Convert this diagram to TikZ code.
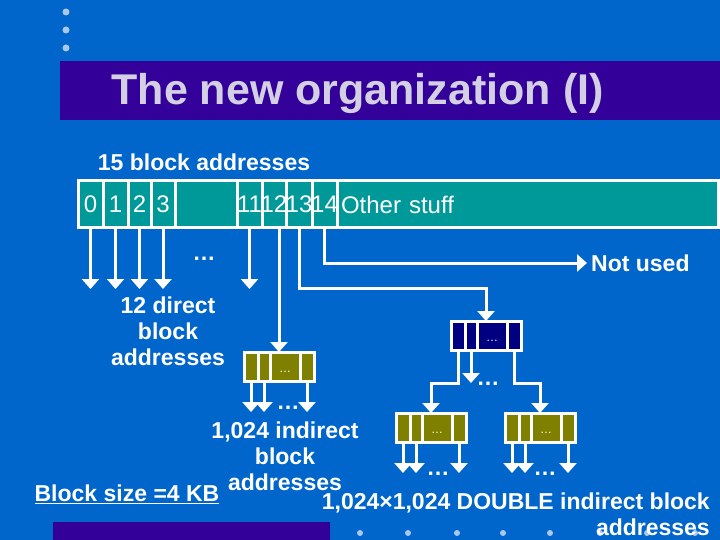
\documentclass[tikz,border=0pt]{standalone}
\usepackage{fontspec}
\setmainfont{Liberation Sans}
\usetikzlibrary{arrows.meta,positioning}

\definecolor{slidebg}{RGB}{0,102,204}
\definecolor{titlebar}{RGB}{51,0,153}
\definecolor{titletext}{RGB}{212,208,228}
\definecolor{bulletdot}{RGB}{170,200,235}
\definecolor{inodeteal}{RGB}{0,153,153}
\definecolor{indolive}{RGB}{128,128,0}
\definecolor{dblnavy}{RGB}{0,0,128}

\tikzset{
  cell/.style={draw=white, line width=3pt, fill=inodeteal, minimum height=47pt,
    inner sep=0pt, outer sep=0pt, text=white, font=\fontsize{24}{27}\selectfont},
  bcell/.style={draw=white, line width=3pt, minimum height=29pt, inner sep=0pt,
    outer sep=0pt, text=white, text height=12pt, text depth=0pt,
    font=\fontsize{12}{14}\selectfont},
  lbl/.style={text=white, inner sep=1pt, align=center,
    font=\bfseries\fontsize{23}{26}\selectfont},
  dots/.style={text=white, inner sep=0pt, anchor=base, font=\bfseries\fontsize{23}{26}\selectfont},
  arr/.style={draw=white, line width=3pt, -{Triangle[width=17pt,length=10pt]}},
}

% cell number that may spill over the cell borders
\newcommand{\cnum}[1]{\makebox[0pt]{#1}}

% one index block: four cells, coordinate (#1) at the middle of its top
\newcommand{\iblock}[4]{%
  \node[bcell, fill=#4, minimum width=14pt, anchor=north west] (#1a) at (#2,#3) {};
  \node[bcell, fill=#4, minimum width=12pt, right=0pt of #1a] (#1b) {};
  \node[bcell, fill=#4, minimum width=30pt, right=0pt of #1b] (#1c) {\ldots};
  \node[bcell, fill=#4, minimum width=14pt, right=0pt of #1c] (#1d) {};
  \coordinate (#1) at ([xshift=-6pt]#1c.north);
}

\begin{document}
\begin{tikzpicture}[x=1pt,y=-1pt]
\useasboundingbox (0,0) rectangle (720,540);
\fill[slidebg] (0,0) rectangle (720,540);

% slide decoration
\fill[bulletdot] (66,12) circle (3.5) (66,30) circle (3.5) (66,48) circle (3.5);
\fill[titlebar] (60,61) rectangle (720,120);
\node[anchor=west, text=titletext, font=\bfseries\fontsize{43}{48}\selectfont] (title) at (108,93) {The new organization (I)};
\fill[titlebar] (53,522) rectangle (330,540);
\foreach \x in {360,408,457,503,550,600,647,695}
  \fill[bulletdot] (\x,533) circle (3);

% the inode
\node[lbl] (hdr) at (204,162) {15 block addresses};
\node[cell, minimum width=25pt, anchor=west] (c0) at (78,204.5) {\cnum{0}};
\node[cell, minimum width=25pt, right=0pt of c0] (c1) {\cnum{1}};
\node[cell, minimum width=23pt, right=0pt of c1] (c2) {\cnum{2}};
\node[cell, minimum width=24pt, right=0pt of c2] (c3) {\cnum{3}};
\node[cell, minimum width=62pt, right=0pt of c3] (cgap) {};
\node[cell, minimum width=25pt, right=0pt of cgap] (c11) {\cnum{11}};
\node[cell, minimum width=24pt, right=0pt of c11] (c12) {\cnum{12}};
\node[cell, minimum width=26pt, right=0pt of c12] (c13) {\cnum{13}};
\node[cell, minimum width=25pt, right=0pt of c13] (c14) {\cnum{14}};
\node[cell, minimum width=381pt, text width=373pt, inner xsep=4pt, align=left,
  right=0pt of c14] (cother) {Other stuff};

% direct blocks
\coordinate (dend) at (0,289);
\foreach \c in {c0,c1,c2,c3,c11}
  \draw[arr] (\c.south) -- (\c.south |- dend);
\node[dots] (gdots) at (204,260) {\ldots};
\node[lbl] (direct) at (168,331) {12 direct\\block\\addresses};

% not used
\node[lbl, anchor=west, inner xsep=4pt] (nu) at (587,263) {Not used};
\draw[arr] (c14.south) |- (nu.west);

% single indirect
\iblock{ib}{244}{352}{indolive}
\draw[arr] (ib |- c12.south) -- (ib);
\coordinate (ie) at (0,412);
\foreach \c in {iba,ibb,ibd}
  \draw[arr] (\c.south) -- (\c.south |- ie);
\node[dots] (idots) at (288,409) {\ldots};
\node[lbl] (indirect) at (285,456) {1,024 indirect\\block\\addresses};

% double indirect
\iblock{db}{451}{321}{dblnavy}
\iblock{dl}{396}{413}{indolive}
\iblock{dr}{505}{413}{indolive}
\coordinate (k13) at (0,288);
\draw[arr] (c13.south) -- (c13.south |- k13) -| (db);
\coordinate (dk) at (0,383);
\draw[arr] (dba.south) -- (dba.south |- dk) -| (dl);
\draw[arr] (dbb.south) -- (dbb.south |- dk);
\draw[arr] (dbd.south) -- (dbd.south |- dk) -| (dr);
\node[dots] (ddots) at (488,385) {\ldots};
\coordinate (le) at (0,473);
\foreach \c in {dla,dlb,dld,dra,drb,drd}
  \draw[arr] (\c.south) -- (\c.south |- le);
\node[dots] (ldots) at (438,475) {\ldots};
\node[dots] (rdots) at (545,475) {\ldots};
\node[lbl, align=right, anchor=east] (double) at (711,514) {1,024×1,024 DOUBLE indirect block\\addresses};

\node[lbl] (bsize) at (127,494) {\underline{Block size =4 KB}};
\end{tikzpicture}
\end{document}
